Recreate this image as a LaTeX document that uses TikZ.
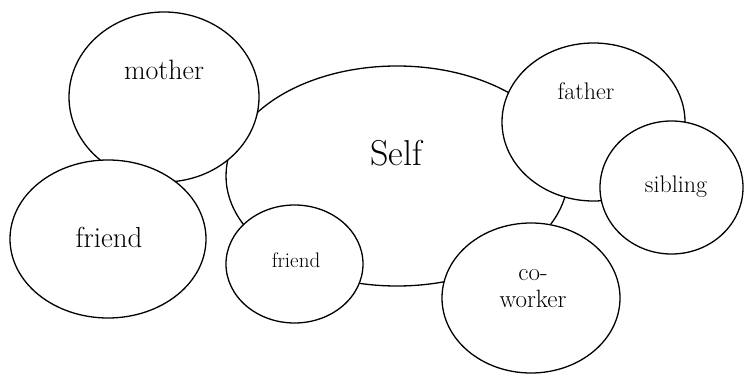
\documentclass[tikz,border=0pt]{standalone}
\usetikzlibrary{shapes.geometric}
\begin{document}
\begin{tikzpicture}[x=1pt,y=-1pt,
  blob/.style={ellipse,draw=black,fill=white,line width=1.3pt,inner sep=0pt},
  lbl/.style={inner sep=0pt,align=center}]
\useasboundingbox (0,0) rectangle (744,374);
% Self
\node[blob,minimum width=342pt,minimum height=220pt] (self) at (397,176) {};
\node[lbl,font=\fontsize{36}{40}\selectfont] (selft) at (396,153) {Self};
% mother
\node[blob,minimum width=190pt,minimum height=170pt] (mother) at (164,97) {};
\node[lbl,font=\fontsize{28}{32}\selectfont] (mothert) at (164,70) {mother};
% big friend
\node[blob,minimum width=196pt,minimum height=158pt] (friendA) at (108,239) {};
\node[lbl,font=\fontsize{29}{32}\selectfont] (friendAt) at (109,237) {friend};
% small friend
\node[blob,minimum width=137pt,minimum height=118pt] (friendB) at (294.5,264) {};
\node[lbl,font=\fontsize{21}{24}\selectfont] (friendBt) at (296,260) {friend};
% father
\node[blob,minimum width=183pt,minimum height=158pt] (father) at (593.5,122) {};
\node[lbl,font=\fontsize{24}{27}\selectfont] (fathert) at (586,91) {father};
% sibling
\node[blob,minimum width=143pt,minimum height=133pt] (sibling) at (671.5,187.5) {};
\node[lbl,font=\fontsize{24}{27}\selectfont] (siblingt) at (676,187) {sibling};
% co-worker
\node[blob,minimum width=178pt,minimum height=150pt] (coworker) at (531,298) {};
\node[lbl,font=\fontsize{25}{27}\selectfont] (coworkert) at (533,289) {co-\\worker};
\end{tikzpicture}
\end{document}
